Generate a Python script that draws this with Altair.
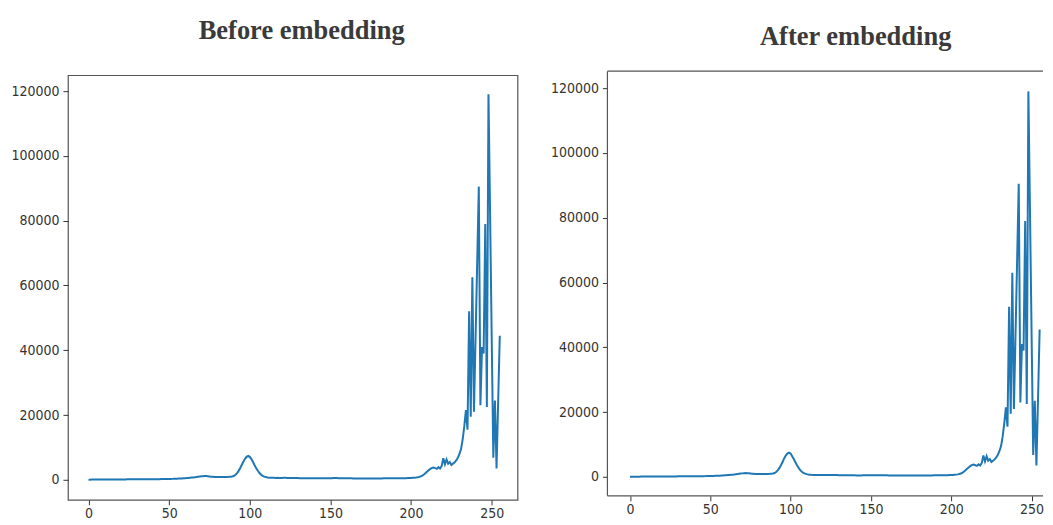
import altair as alt
import pandas as pd

# ---------------- data ----------------
pixel_values = list(range(256))

before_counts = [
    60, 60, 70, 70, 80, 80, 80, 90, 90, 100,
    100, 100, 110, 110, 110, 120, 120, 120, 130, 130,
    130, 140, 140, 140, 150, 150, 150, 160, 160, 160,
    170, 170, 170, 180, 180, 180, 190, 190, 200, 200,
    200, 210, 210, 220, 220, 230, 230, 240, 250, 260,
    270, 280, 300, 320, 340, 360, 380, 410, 440, 480,
    520, 560, 600, 650, 700, 760, 820, 880, 950, 1020,
    1080, 1130, 1160, 1150, 1110, 1050, 990, 940, 900, 880,
    860, 850, 850, 860, 870, 880, 900, 930, 980, 1050,
    1200, 1500, 2000, 2700, 3600, 4600, 5600, 6500, 7100, 7400,
    7100, 6400, 5500, 4500, 3600, 2800, 2100, 1600, 1250, 1000,
    850, 750, 680, 640, 620, 610, 600, 620, 600, 590,
    600, 620, 610, 600, 590, 580, 570, 560, 560, 550,
    540, 530, 520, 520, 510, 500, 500, 490, 480, 480,
    480, 470, 470, 470, 470, 480, 480, 490, 500, 510,
    520, 530, 540, 540, 540, 530, 520, 510, 500, 490,
    480, 470, 460, 460, 450, 450, 450, 440, 440, 440,
    430, 430, 430, 430, 430, 440, 440, 440, 440, 450,
    450, 450, 450, 460, 460, 460, 470, 470, 470, 480,
    480, 490, 490, 500, 500, 510, 520, 530, 540, 560,
    580, 610, 650, 700, 780, 880, 1050, 1300, 1650, 2100,
    2600, 3000, 3400, 3700, 3800, 3600, 3400, 3900, 3500, 4300,
    6700, 4800, 6300, 5000, 5500, 4600, 5000, 5400, 6000, 6800,
    8000, 9500, 12500, 16500, 21500, 15500, 52000, 19500, 62500, 21000,
    44000, 67000, 90500, 23000, 41000, 39000, 79000, 22500, 119000, 82000,
    44000, 6800, 24500, 3500, 24000, 44500,
]

after_counts = [
    60, 60, 70, 70, 80, 80, 80, 90, 90, 100,
    100, 100, 110, 110, 110, 120, 120, 120, 130, 130,
    130, 140, 140, 140, 150, 150, 150, 160, 160, 160,
    170, 170, 170, 180, 180, 180, 190, 190, 200, 200,
    200, 210, 210, 220, 220, 230, 230, 240, 250, 260,
    270, 280, 300, 320, 340, 360, 380, 410, 440, 480,
    520, 560, 600, 650, 700, 760, 820, 880, 950, 1020,
    1090, 1140, 1170, 1160, 1120, 1060, 1000, 950, 910, 890,
    870, 860, 860, 870, 880, 890, 910, 940, 990, 1060,
    1200, 1500, 2000, 2700, 3600, 4600, 5700, 6600, 7200, 7500,
    7200, 6400, 5500, 4500, 3600, 2800, 2100, 1600, 1250, 1000,
    850, 750, 680, 640, 620, 610, 600, 620, 600, 590,
    600, 620, 610, 600, 590, 580, 570, 560, 560, 550,
    540, 530, 520, 520, 510, 500, 500, 490, 480, 480,
    480, 470, 470, 470, 470, 480, 480, 490, 500, 510,
    520, 530, 540, 540, 540, 530, 520, 510, 500, 490,
    480, 470, 460, 460, 450, 450, 450, 440, 440, 440,
    430, 430, 430, 430, 430, 440, 440, 440, 440, 450,
    450, 450, 450, 460, 460, 460, 470, 470, 470, 480,
    480, 490, 490, 500, 500, 510, 520, 530, 540, 560,
    580, 610, 650, 700, 780, 880, 1050, 1300, 1650, 2100,
    2600, 3000, 3400, 3700, 3800, 3600, 3400, 3900, 3500, 4300,
    6600, 4800, 6400, 5000, 5500, 4600, 5000, 5400, 6000, 6800,
    8000, 9500, 12500, 16500, 21500, 15500, 52500, 19500, 63000, 21000,
    44000, 67000, 90500, 23000, 41000, 39000, 79000, 22500, 119000, 82000,
    44000, 6800, 23500, 3500, 24000, 45500,
]

titles = ["Before embedding", "After embedding"]
x_ticks = [0, 50, 100, 150, 200, 250]
y_ticks = [0, 20000, 40000, 60000, 80000, 100000, 120000]

LABEL_FONT = "DejaVu Sans Condensed, Roboto, sans-serif"
TITLE_FONT = "Liberation Serif, Times New Roman, serif"
LINE_COLOR = "#1f77b4"
FRAME_COLOR = "#555555"


def panel(counts, title, x_domain, y_domain, width, height,
          title_x, title_y, title_size, manual_frame=False, frame_shift=0):
    df = pd.DataFrame({"value": pixel_values, "count": counts})
    x_axis_kwargs = dict(values=x_ticks, format="d", title=None)
    if manual_frame:
        x_axis_kwargs["offset"] = -frame_shift
    line = alt.Chart(df).mark_line(color=LINE_COLOR, strokeWidth=2).encode(
        x=alt.X("value:Q",
                scale=alt.Scale(domain=x_domain, nice=False, zero=False),
                axis=alt.Axis(**x_axis_kwargs)),
        y=alt.Y("count:Q",
                scale=alt.Scale(domain=y_domain, nice=False, zero=False),
                axis=alt.Axis(values=y_ticks, format="d", title=None)),
    )
    tdf = pd.DataFrame({"t": [title]})
    ttl = alt.Chart(tdf).mark_text(
        font=TITLE_FONT, fontSize=title_size, fontWeight="bold",
        color="#3a3a3a", align="center", baseline="alphabetic",
    ).encode(text="t:N", x=alt.value(title_x), y=alt.value(title_y))
    layers = [line, ttl]
    if manual_frame:
        top = -frame_shift
        bottom = height - frame_shift
        fdf = pd.DataFrame({"f": [0]})
        frame_style = dict(color=FRAME_COLOR, strokeWidth=1.2)
        layers.append(alt.Chart(fdf).mark_rule(**frame_style).encode(
            x=alt.value(0), x2=alt.value(width), y=alt.value(top)))
        layers.append(alt.Chart(fdf).mark_rule(**frame_style).encode(
            x=alt.value(0), x2=alt.value(width), y=alt.value(bottom)))
        layers.append(alt.Chart(fdf).mark_rule(**frame_style).encode(
            x=alt.value(0), y=alt.value(top), y2=alt.value(bottom)))
    ch = alt.layer(*layers).properties(width=width, height=height)
    if manual_frame:
        ch = ch.properties(view=alt.ViewBackground(stroke="transparent"))
    return ch


left = panel(before_counts, titles[0],
             x_domain=[-12.75, 266.0], y_domain=[-6150, 124900],
             width=450, height=425,
             title_x=234, title_y=-36, title_size=26.5)

right = panel(after_counts, titles[1],
              x_domain=[-14.0, 257.1], y_domain=[-7060, 124000],
              width=436, height=425,
              title_x=248.5, title_y=-30, title_size=26.5,
              manual_frame=True, frame_shift=4)

chart = alt.hconcat(left, right, spacing=90, bounds="flush").properties(
    padding={"left": 2, "top": 9, "right": 0, "bottom": 0},
    background="white",
).configure_view(
    stroke=FRAME_COLOR, strokeWidth=1.2,
).configure_axis(
    labelFont=LABEL_FONT, labelFontSize=14, labelColor="#333333",
    tickColor="#333333", tickSize=5, tickWidth=1,
    domain=False, grid=False, labelPadding=4,
).configure_axisX(labelPadding=2)

chart.save("out.html", embed_options={"renderer": "svg", "actions": False})
